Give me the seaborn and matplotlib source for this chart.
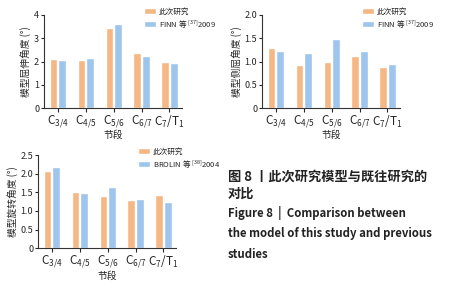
import matplotlib
matplotlib.use('Agg')
import matplotlib.pyplot as plt
import numpy as np
import pandas as pd
import seaborn as sns

# Data
segments = ['C$_{3/4}$', 'C$_{4/5}$', 'C$_{5/6}$', 'C$_{6/7}$', 'C$_{7}$/T$_{1}$']
this_study = '此次研究'

flex_this = [2.10, 2.08, 3.45, 2.38, 2.00]
flex_finn = [2.08, 2.15, 3.62, 2.25, 1.92]

lat_this = [1.28, 0.93, 0.98, 1.12, 0.88]
lat_finn = [1.22, 1.18, 1.48, 1.23, 0.94]

rot_this = [2.08, 1.52, 1.41, 1.28, 1.43]
rot_brolin = [2.18, 1.48, 1.63, 1.33, 1.25]

finn_label = 'FINN 等 $^{[37]}$2009'
brolin_label = 'BROLIN 等 $^{[38]}$2004'

ylabels = ['模型屈伸角度 (°)', '模型侧屈角度 (°)', '模型旋转角度 (°)']
yticks = [[0, 1, 2, 3, 4], [0, 0.5, 1.0, 1.5, 2.0], [0, 0.5, 1.0, 1.5, 2.0, 2.5]]
yticklabels = [['0', '1', '2', '3', '4'],
               ['0', '0.5', '1.0', '1.5', '2.0'],
               ['0', '0.5', '1.0', '1.5', '2.0', '2.5']]

sns.set_style('ticks')
plt.rcParams['font.family'] = ['Noto Sans CJK SC', 'DejaVu Sans']
plt.rcParams['mathtext.fontset'] = 'custom'
plt.rcParams['mathtext.rm'] = 'Noto Sans CJK SC'
plt.rcParams['mathtext.it'] = 'Noto Sans CJK SC'

colors = ['#F5B783', '#9EC5EC']

fig = plt.figure(figsize=(4.5, 3), dpi=100)
rects = [[44 / 450, 0.64, 138 / 450, 0.31],
         [262 / 450, 0.64, 138 / 450, 0.31],
         [38 / 450, 0.173, 138 / 450, 0.31]]
series = [(flex_this, flex_finn, finn_label),
          (lat_this, lat_finn, finn_label),
          (rot_this, rot_brolin, brolin_label)]

for i, (a, b, other) in enumerate(series):
    ax = fig.add_axes(rects[i])
    df = pd.DataFrame({
        'seg': segments * 2,
        'val': a + b,
        'src': [this_study] * 5 + [other] * 5,
    })
    sns.barplot(data=df, x='seg', y='val', hue='src', palette=colors,
                width=0.62, gap=0.12, ax=ax, saturation=1)
    sns.despine(ax=ax)
    ax.set_xlim(-0.5, 4.45)
    ax.set_ylim(0, yticks[i][-1])
    ax.set_yticks(yticks[i])
    ax.set_yticklabels(yticklabels[i], fontsize=6.5)
    ax.tick_params(axis='x', labelsize=8.5, length=3, width=0.8, pad=1)
    ax.tick_params(axis='y', length=2.5, width=0.8, pad=1)
    for sp in ax.spines.values():
        sp.set_linewidth(0.8)
        sp.set_color('#333333')
    ax.set_xlabel('节段', fontsize=7, labelpad=0)
    ax.set_ylabel(ylabels[i], fontsize=7, labelpad=2)
    ax.legend(frameon=False, fontsize=5.5, loc='upper left',
              bbox_to_anchor=(0.7, 1.12), handlelength=1.5,
              handleheight=0.8, handletextpad=0.4, labelspacing=0.3,
              borderpad=0)

fig.text(228 / 450, 1 - 170 / 300, '图 8 丨此次研究模型与既往研究的\n对比',
         fontsize=9.5, fontweight='bold', va='top', ha='left',
         linespacing=1.25, color='#222222')
fig.text(228 / 450, 1 - 206 / 300,
         'Figure 8  |  Comparison between\nthe model of this study and previous\nstudies',
         fontsize=8.2, fontweight='bold', va='top', ha='left',
         linespacing=1.75, color='#222222')

fig.savefig('out.png', dpi=100)
